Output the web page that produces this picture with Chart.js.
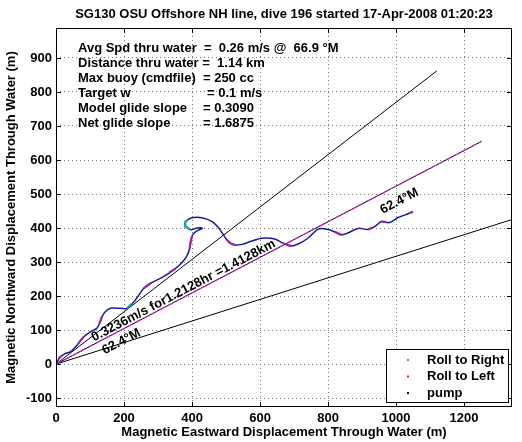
<!DOCTYPE html>
<html>
<head>
<meta charset="utf-8">
<script src="https://cdn.jsdelivr.net/npm/chart.js@4.4.1/dist/chart.umd.min.js"></script>
<style>
  html, body { margin: 0; padding: 0; background: #fff; }
  canvas { display: block; }
</style>
</head>
<body>
<canvas id="chart" width="522" height="442"></canvas>
<script>
// glider track through water (m), magnetic east / north
const trackX = [0, 10, 18, 30, 42, 55, 66, 81, 101, 120, 128, 135, 145, 160, 189, 209, 233, 258, 277, 316, 350, 372,
  385, 393, 397, 403, 417, 431, 415, 395, 382, 380, 390, 405, 429, 459, 478, 493, 503, 513, 527, 547, 576, 606,
  643, 668, 692, 712, 741, 771, 800, 819, 839, 859, 888, 918, 937, 957, 981, 1006, 1025, 1050];
const trackY = [0, 18, 26, 32, 36, 48, 61, 80, 95, 105, 120, 139, 154, 164, 164, 164, 188, 223, 237, 257, 280, 300,
  318, 340, 365, 382, 393, 399, 400, 395, 404, 417, 426, 431, 430, 419, 401, 379, 365, 355, 350, 352, 362, 370,
  368, 355, 347, 353, 370, 397, 396, 389, 380, 386, 399, 396, 404, 419, 416, 431, 438, 448];

// roll segments along the track (null = gap)
const rollLeftX = [10, 18, null, 66, 81, null, 128, 135, null, 258, 277, null, 333, 350, null, 393, 397, 401, null,
  503, 513, 527, null, 668, 692, null, 819, 839, null, 918, 930, null, 957, 970, null, 1040, 1050];
const rollLeftY = [18, 26, null, 61, 80, null, 120, 139, null, 223, 237, null, 269, 280, null, 340, 365, 377, null,
  365, 355, 350, null, 355, 347, null, 389, 380, null, 396, 401, null, 419, 418, null, 444, 448];
const rollRightX = [395, 382, 380, 385, null, 209, 221];
const rollRightY = [395, 404, 417, 422, null, 164, 176];

// course lines from the dive start (52.4, 62.4, 72.4 deg M, 1.4128 km)
const courseEndX = [1120, 1252, 1347];
const courseEndY = [862, 655, 427];

const xTicks = [0, 200, 400, 600, 800, 1000, 1200];
const yTicks = [-100, 0, 100, 200, 300, 400, 500, 600, 700, 800, 900];
const xLimits = [0, 1341];
const yLimits = [-126, 988];

const titleText = 'SG130 OSU Offshore NH line, dive 196 started 17-Apr-2008 01:20:23';
const infoLabels = ['Avg Spd thru water  =  0.26 m/s @  66.9 \u00b0M', 'Distance thru water =  1.14 km',
  'Max buoy (cmdfile)  = 250 cc', 'Target w', 'Model glide slope', 'Net glide slope'];
const infoValues = ['', '', '', '= 0.1 m/s', '= 0.3090', '= 1.6875'];
const courseLabels = ['0.3236m/s for1.2128hr =1.4128km', '62.4\u00b0M', '62.4\u00b0M'];
const courseLabelX = [375, 192, 1010];
const courseLabelY = [216, 66, 479];
const legendLabels = ['Roll to Right', 'Roll to Left', 'pump'];
const legendColors = ['#22cc22', '#cc2222', '#000000'];

const FAMILY = "'Liberation Sans', Arial, sans-serif";
const FONT = 'bold 13px ' + FAMILY;
Chart.defaults.font.family = FAMILY;
Chart.defaults.font.size = 13;
Chart.defaults.font.weight = 'bold';
Chart.defaults.color = '#000';

const pts = (xs, ys) => xs.map((v, i) => ({x: v, y: ys[i]}));

// box, inside ticks, text block, rotated labels and legend
const annotations = {
    id: 'annotations',
    afterDatasetsDraw(chart) {
        const {ctx, chartArea: a, scales: {x, y}} = chart;
        ctx.save();
        ctx.strokeStyle = '#000';
        ctx.lineWidth = 1;
        ctx.beginPath();
        xTicks.forEach(v => {
            const p = Math.round(x.getPixelForValue(v)) + 0.5;
            ctx.moveTo(p, a.bottom); ctx.lineTo(p, a.bottom - 5);
            ctx.moveTo(p, a.top); ctx.lineTo(p, a.top + 5);
        });
        yTicks.forEach(v => {
            const p = Math.round(y.getPixelForValue(v)) + 0.5;
            ctx.moveTo(a.left, p); ctx.lineTo(a.left + 5, p);
            ctx.moveTo(a.right, p); ctx.lineTo(a.right - 5, p);
        });
        ctx.stroke();
        ctx.strokeRect(Math.round(a.left) + 0.5, Math.round(a.top) + 0.5,
            Math.round(a.right - a.left) - 1, Math.round(a.bottom - a.top) - 1);

        ctx.font = FONT;
        ctx.fillStyle = '#000';
        ctx.textBaseline = 'middle';
        ctx.textAlign = 'left';
        infoLabels.forEach((t, i) => {
            const ty = a.top + 20 + i * 15;
            ctx.fillText(t, a.left + 22, ty);
            if (infoValues[i]) ctx.fillText(infoValues[i], i === 3 ? a.left + 151 : a.left + 147, ty);
        });

        // labels along the 62.4 deg course line
        const ang = Math.atan2(y.getPixelForValue(courseEndY[1]) - y.getPixelForValue(0),
            x.getPixelForValue(courseEndX[1]) - x.getPixelForValue(0));
        ctx.textAlign = 'center';
        courseLabels.forEach((t, i) => {
            ctx.save();
            ctx.translate(x.getPixelForValue(courseLabelX[i]), y.getPixelForValue(courseLabelY[i]));
            ctx.rotate(ang);
            ctx.fillText(t, 0, 0);
            ctx.restore();
        });

        // legend in the lower right corner
        const lx = a.right - 126, ly = a.bottom - 58;
        ctx.fillStyle = '#fff';
        ctx.fillRect(lx, ly, 122, 53);
        ctx.strokeRect(lx + 0.5, ly + 0.5, 122, 53);
        ctx.textAlign = 'left';
        legendLabels.forEach((t, i) => {
            const ty = ly + 11 + i * 16.5;
            ctx.fillStyle = legendColors[i];
            ctx.fillRect(lx + 21, ty - 1, 2, 2);
            ctx.fillStyle = '#000';
            ctx.fillText(t, lx + 41, ty);
        });
        ctx.restore();
    }
};

new Chart(document.getElementById('chart'), {
    type: 'scatter',
    data: {
        datasets: [
            {label: 'Roll to Right', data: pts(rollRightX, rollRightY), borderColor: '#14a79a', borderWidth: 2.2, order: 1},
            {label: 'Roll to Left', data: pts(rollLeftX, rollLeftY), borderColor: '#a3269c', borderWidth: 2.2, order: 2},
            {label: 'track', data: pts(trackX, trackY), borderColor: '#1a1a9c', borderWidth: 1.5, tension: 0.3, order: 3},
            {label: 'course dash', data: pts([0, courseEndX[1]], [0, courseEndY[1]]), borderColor: '#d21fd2', borderWidth: 1.2, borderDash: [6, 3], order: 4},
            {label: 'course', data: pts([0, courseEndX[1]], [0, courseEndY[1]]), borderColor: '#000', borderWidth: 1, order: 5},
            {label: 'course -10', data: pts([0, courseEndX[0]], [0, courseEndY[0]]), borderColor: '#000', borderWidth: 1, order: 5},
            {label: 'course +10', data: pts([0, courseEndX[2]], [0, courseEndY[2]]), borderColor: '#000', borderWidth: 1, order: 5}
        ].map(d => Object.assign({showLine: true, pointRadius: 0, spanGaps: false, fill: false}, d))
    },
    options: {
        responsive: false,
        animation: false,
        events: [],
        devicePixelRatio: 1,
        layout: {padding: {top: 0, right: 10, left: 0, bottom: 0}},
        plugins: {
            legend: {display: false},
            tooltip: {enabled: false},
            title: {
                display: true,
                text: titleText,
                fullSize: false,
                font: {size: 13, weight: 'bold'},
                padding: {top: 7, bottom: 5.4}
            }
        },
        scales: {
            x: {
                type: 'linear',
                min: xLimits[0],
                max: xLimits[1],
                afterBuildTicks: s => { s.ticks = xTicks.map(v => ({value: v})); },
                afterFit: s => { s.height = 35; },
                ticks: {padding: 4, maxRotation: 0, callback: v => String(v)},
                grid: {color: '#777', drawTicks: false},
                border: {display: false, dash: [1, 3]},
                title: {display: true, text: 'Magnetic Eastward Displacement Through Water (m)', padding: {top: 0, bottom: 2}}
            },
            y: {
                type: 'linear',
                min: yLimits[0],
                max: yLimits[1],
                afterBuildTicks: s => { s.ticks = yTicks.map(v => ({value: v})); },
                afterFit: s => { s.width = 56; },
                ticks: {padding: 4, callback: v => String(v)},
                grid: {color: '#777', drawTicks: false},
                border: {display: false, dash: [1, 3]},
                title: {display: true, text: 'Magnetic Northward Displacement Through Water (m)', padding: {top: 4, bottom: 0}}
            }
        }
    },
    plugins: [annotations]
});
</script>
</body>
</html>
